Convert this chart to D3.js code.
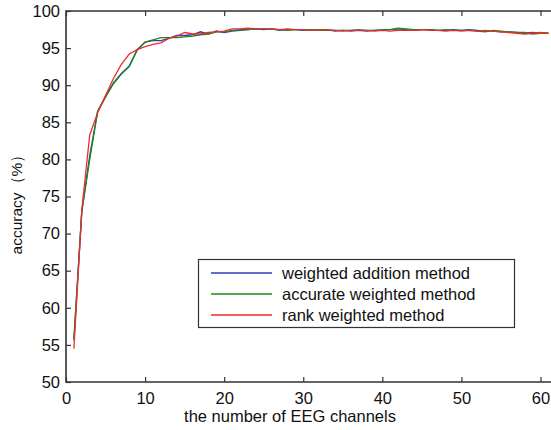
<!DOCTYPE html>
<html>
<head>
<meta charset="utf-8">
<script src="https://cdn.jsdelivr.net/npm/d3@7"></script>
<style>
    body { margin: 0; background: #fff; }
    svg { display: block; font-family: "Liberation Sans", Arial, sans-serif; }
</style>
</head>
<body>
<svg id="chart" width="551" height="430"></svg>
<script>
const channels = d3.range(1, 62);

const weightedAddition = [
    55.8, 73.0, 80.5, 86.5, 88.5, 90.3, 91.6, 92.6, 94.8, 95.8,
    96.0, 96.0, 96.3, 96.7, 96.7, 96.8, 97.2, 96.9, 97.3, 97.1,
    97.3, 97.4, 97.5, 97.6, 97.5, 97.6, 97.4, 97.5, 97.5, 97.4,
    97.5, 97.4, 97.5, 97.3, 97.4, 97.3, 97.4, 97.3, 97.4, 97.4,
    97.5, 97.6, 97.5, 97.4, 97.5, 97.5, 97.4, 97.4, 97.5, 97.4,
    97.5, 97.4, 97.3, 97.3, 97.2, 97.2, 97.1, 97.0, 97.1, 97.0, 97.0
];
const accurateWeighted = [
    55.6, 73.0, 80.0, 86.4, 88.4, 90.2, 91.5, 92.5, 94.7, 95.8,
    96.1, 96.4, 96.4, 96.4, 96.5, 96.6, 96.8, 96.9, 97.2, 97.2,
    97.4, 97.5, 97.5, 97.6, 97.6, 97.6, 97.5, 97.4, 97.5, 97.5,
    97.5, 97.4, 97.4, 97.4, 97.4, 97.4, 97.5, 97.4, 97.4, 97.5,
    97.5, 97.7, 97.6, 97.5, 97.5, 97.5, 97.4, 97.5, 97.4, 97.4,
    97.4, 97.3, 97.2, 97.4, 97.3, 97.2, 97.1, 97.1, 96.9, 97.0, 97.0
];
const rankWeighted = [
    54.5, 73.2, 83.3, 86.3, 88.6, 90.9, 92.8, 94.2, 94.8, 95.2,
    95.5, 95.7, 96.3, 96.6, 97.1, 96.9, 96.9, 97.1, 97.2, 97.3,
    97.6, 97.6, 97.7, 97.6, 97.6, 97.6, 97.5, 97.6, 97.5, 97.5,
    97.4, 97.5, 97.5, 97.4, 97.3, 97.4, 97.4, 97.4, 97.3, 97.4,
    97.3, 97.4, 97.4, 97.4, 97.5, 97.4, 97.4, 97.3, 97.4, 97.3,
    97.4, 97.3, 97.4, 97.3, 97.2, 97.1, 97.0, 96.9, 97.0, 97.1, 97.0
];

const seriesNames = ["weighted addition method", "accurate weighted method", "rank weighted method"];
const seriesColors = ["#2a3dbd", "#1a8a1a", "#f02a2a"];
const xTicks = [0, 10, 20, 30, 40, 50, 60];
const yTicks = [50, 55, 60, 65, 70, 75, 80, 85, 90, 95, 100];

const series = [weightedAddition, accurateWeighted, rankWeighted].map(function (values, i) {
    return {
        name: seriesNames[i],
        color: seriesColors[i],
        points: values.map(function (v, j) { return {x: channels[j], y: v}; })
    };
});

const svg = d3.select("#chart");
const plotLeft = 66, plotTop = 11, plotBottom = 382;

const x = d3.scaleLinear().domain([0, 60]).range([plotLeft, 540.5]);
const y = d3.scaleLinear().domain([50, 100]).range([plotBottom, plotTop]);
const plotRight = x(62);

const axisColor = "#333";
const fontSize = "16.5px";

// lines
const line = d3.line()
    .x(function (d) { return x(d.x); })
    .y(function (d) { return y(d.y); });

svg.append("g")
    .selectAll("path")
    .data(series)
    .enter()
    .append("path")
    .attr("d", function (d) { return line(d.points); })
    .attr("fill", "none")
    .attr("stroke", function (d) { return d.color; })
    .attr("stroke-width", 1.3);

// axes (ticks point inward like matlab)
const xAxis = svg.append("g")
    .attr("transform", `translate(0, ${plotBottom})`)
    .call(d3.axisBottom(x).tickValues(xTicks).tickSizeInner(-5).tickSizeOuter(0).tickPadding(10));
const xTop = svg.append("g")
    .attr("transform", `translate(0, ${plotTop})`)
    .call(d3.axisTop(x).tickValues(xTicks).tickSizeInner(-5).tickSizeOuter(0).tickFormat(""));
const yAxis = svg.append("g")
    .attr("transform", `translate(${plotLeft}, 0)`)
    .call(d3.axisLeft(y).tickValues(yTicks).tickSizeInner(-5).tickSizeOuter(0).tickPadding(6));

[xAxis, xTop, yAxis].forEach(function (g) {
    g.select(".domain").remove();
    g.selectAll("line").attr("stroke", axisColor).attr("stroke-width", 1.2);
    g.selectAll("text")
        .attr("fill", "#111")
        .style("font-size", fontSize)
        .style("font-family", "'Liberation Sans', Arial, sans-serif");
});

// axis box lines
svg.append("path")
    .attr("d", `M${plotRight},${plotTop}H${plotLeft}V${plotBottom}H${plotRight}`)
    .attr("fill", "none")
    .attr("stroke", axisColor)
    .attr("stroke-width", 1.6);

// axis labels
svg.append("text")
    .attr("x", 290)
    .attr("y", 422)
    .attr("text-anchor", "middle")
    .attr("fill", "#111")
    .style("font-size", fontSize)
    .text("the number of EEG channels");

svg.append("text")
    .attr("transform", `translate(22, ${(plotTop + plotBottom) / 2 + 4}) rotate(-90)`)
    .attr("text-anchor", "middle")
    .attr("fill", "#111")
    .style("font-size", "15.5px")
    .text("accuracy（%）");

// legend
const legend = svg.append("g");
legend.append("rect")
    .attr("x", 198.5)
    .attr("y", 259.5)
    .attr("width", 316)
    .attr("height", 68)
    .attr("fill", "#fff")
    .attr("stroke", axisColor)
    .attr("stroke-width", 1.2);

const item = legend.selectAll("g.item")
    .data(series)
    .enter()
    .append("g")
    .attr("class", "item")
    .attr("transform", function (d, i) { return `translate(0, ${273 + 21 * i})`; });

item.append("line")
    .attr("x1", 211)
    .attr("x2", 272)
    .attr("stroke", function (d) { return d.color; })
    .attr("stroke-width", 1.3);

item.append("text")
    .attr("x", 282)
    .attr("dy", "0.35em")
    .attr("fill", "#111")
    .style("font-size", fontSize)
    .text(function (d) { return d.name; });
</script>
</body>
</html>
